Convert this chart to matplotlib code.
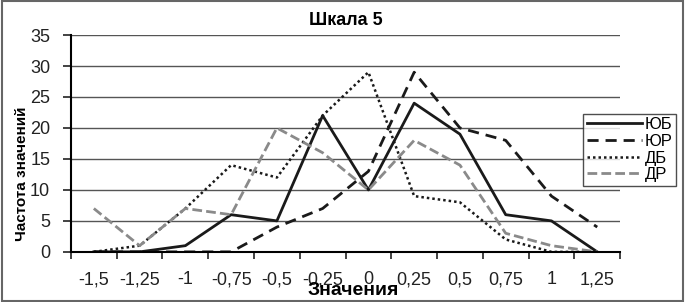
import numpy as np
import matplotlib.pyplot as plt

plt.rcParams['font.family'] = ['Liberation Sans', 'DejaVu Sans']

labels = ['-1,5', '-1,25', '-1', '-0,75', '-0,5', '-0,25', '0', '0,25', '0,5', '0,75', '1', '1,25']
yub = [0, 0, 1, 6, 5, 22, 10, 24, 19, 6, 5, 0]
yur = [0, 0, 0, 0, 4, 7, 13, 29, 20, 18, 9, 4]
db = [0, 1, 7, 14, 12, 22, 29, 9, 8, 2, 0, 0]
dr = [7, 1, 7, 6, 20, 16, 10, 18, 14, 3, 1, 0]

x = np.arange(len(labels))

fig = plt.figure(figsize=(6.89, 3.02), dpi=100)
ax = fig.add_axes([0.103, 0.166, 0.797, 0.718])

ax.plot(x, yub, color='#1a1a1a', lw=2, label='ЮБ')
ax.plot(x, yur, color='#1a1a1a', lw=2, ls=(0, (4, 2.5)), label='ЮР')
ax.plot(x, db, color='#1a1a1a', lw=1.8, ls=(0, (1, 1.2)), label='ДБ')
ax.plot(x, dr, color='#8a8a8a', lw=2, ls=(0, (3.5, 1.5)), label='ДР')

ax.set_xlim(-0.5, len(labels) - 0.5)
ax.set_ylim(0, 35)
ax.set_yticks(range(0, 36, 5))
ax.set_xticks(x)
ax.set_xticklabels(labels)
ax.set_xticks(np.arange(-0.5, len(labels), 1), minor=True)
ax.tick_params(axis='x', which='major', length=0, pad=14, labelsize=13, colors='#222222')
ax.tick_params(axis='x', which='minor', length=5, width=1.2, color='#222222')
ax.tick_params(axis='y', length=6, width=1.2, color='#222222', labelsize=13,
               labelcolor='#222222', pad=9)

ax.grid(axis='y', color='#555555', lw=1)
ax.set_axisbelow(True)
for s in ['top', 'right']:
    ax.spines[s].set_visible(False)
ax.spines['left'].set_linewidth(1.5)
ax.spines['bottom'].set_linewidth(1.5)

ax.set_title('Шкала 5', fontsize=13, fontweight='bold', pad=7)
ax.set_ylabel('Частота значений', fontsize=11, fontweight='bold')
ax.yaxis.set_label_coords(-0.076, 0.36)
ax.set_xlabel('Значения', fontsize=14, fontweight='bold')
ax.xaxis.set_label_coords(0.514, -0.138)

leg = ax.legend(loc='upper left', bbox_to_anchor=(0.933, 0.636), fontsize=12,
                frameon=True, fancybox=False, edgecolor='#222222',
                borderpad=0.2, labelspacing=0.1, handlelength=3.3,
                handletextpad=0.2, borderaxespad=0)
leg.get_frame().set_linewidth(1)

fig.add_artist(plt.Rectangle((0.003, 0.003), 0.988, 0.994, transform=fig.transFigure,
                             fill=False, edgecolor='#666666', lw=1.5))

fig.savefig('out.png', dpi=100)
